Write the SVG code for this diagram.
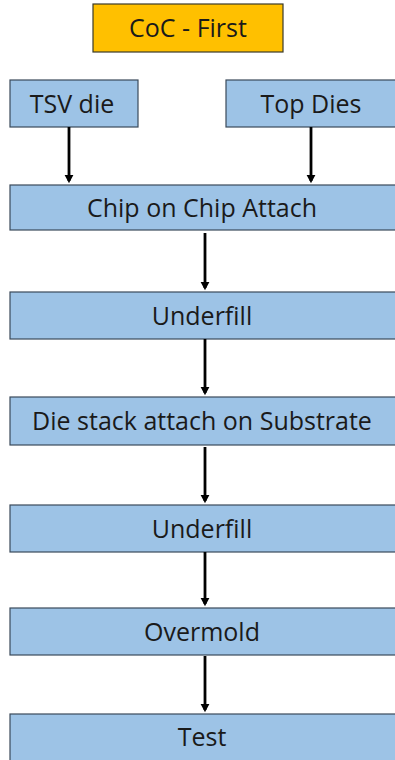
<svg xmlns="http://www.w3.org/2000/svg" width="395" height="760" viewBox="0 0 395 760">
<defs>
<style>
.box{fill:#9dc3e6;stroke:#3a4a5a;stroke-width:1.2}
.title{fill:#ffc000;stroke:#3a3a2a;stroke-width:1.2}
text{font-family:"Open Sans","Liberation Sans",sans-serif;font-size:25px;fill:#1a1a1a;text-anchor:middle;dominant-baseline:central}
.arr{stroke:#000;stroke-width:2.8;fill:none;marker-end:url(#ah)}
</style>
<marker id="ah" markerWidth="4" markerHeight="4" refX="2.2" refY="2" orient="auto" markerUnits="strokeWidth">
<path d="M0,0.4 L3,2 L0,3.6 Z" fill="#000"/>
</marker>
</defs>
<g id="title"><rect class="title" x="93" y="4" width="190" height="48"/><text x="188" y="27">CoC - First</text></g>
<g id="tsv"><rect class="box" x="10" y="80" width="128" height="47"/><text x="72" y="102.5">TSV die</text></g>
<g id="top"><rect class="box" x="226" y="80" width="172" height="47"/><text x="311" y="102.5">Top Dies</text></g>
<g id="coc"><rect class="box" x="10" y="185" width="388" height="45"/><text x="202" y="206.5">Chip on Chip Attach</text></g>
<g id="uf1"><rect class="box" x="10" y="292" width="388" height="47"/><text x="202" y="314.5">Underfill</text></g>
<g id="ds"><rect class="box" x="10" y="397" width="388" height="48"/><text x="202" y="420">Die stack attach on Substrate</text></g>
<g id="uf2"><rect class="box" x="10" y="505" width="388" height="47"/><text x="202" y="527.5">Underfill</text></g>
<g id="om"><rect class="box" x="10" y="608" width="388" height="47"/><text x="202" y="630.5">Overmold</text></g>
<g id="test"><rect class="box" x="10" y="714" width="388" height="50"/><text x="202" y="736">Test</text></g>
<g id="connectors">
<line class="arr" x1="69" y1="127" x2="69" y2="181"/>
<line class="arr" x1="311" y1="127" x2="311" y2="181"/>
<line class="arr" x1="205" y1="233" x2="205" y2="288"/>
<line class="arr" x1="205" y1="339" x2="205" y2="393"/>
<line class="arr" x1="205" y1="447" x2="205" y2="501"/>
<line class="arr" x1="205" y1="552" x2="205" y2="604"/>
<line class="arr" x1="205" y1="656" x2="205" y2="710"/>
</g>
</svg>
